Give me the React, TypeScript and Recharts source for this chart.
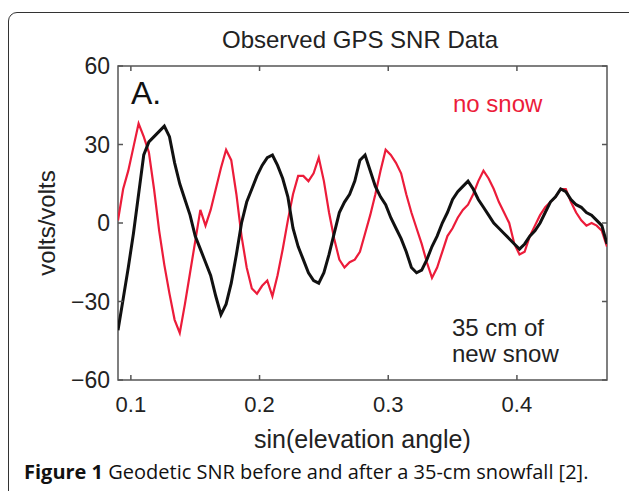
import { LineChart, Line, XAxis, YAxis, ReferenceArea } from "recharts";

// sin(elevation angle) sample positions
const xValues = [
  0.09, 0.094, 0.098, 0.102, 0.106, 0.11, 0.114, 0.118, 0.122, 0.126,
  0.13, 0.134, 0.138, 0.142, 0.146, 0.15, 0.154, 0.158, 0.162, 0.166,
  0.17, 0.174, 0.178, 0.182, 0.186, 0.19, 0.194, 0.198, 0.202, 0.206,
  0.21, 0.214, 0.218, 0.222, 0.226, 0.23, 0.234, 0.238, 0.242, 0.246,
  0.25, 0.254, 0.258, 0.262, 0.266, 0.27, 0.274, 0.278, 0.282, 0.286,
  0.29, 0.294, 0.298, 0.302, 0.306, 0.31, 0.314, 0.318, 0.322, 0.326,
  0.33, 0.334, 0.338, 0.342, 0.346, 0.35, 0.354, 0.358, 0.362, 0.366,
  0.37, 0.374, 0.378, 0.382, 0.386, 0.39, 0.394, 0.398, 0.402, 0.406,
  0.41, 0.414, 0.418, 0.422, 0.426, 0.43, 0.434, 0.438, 0.442, 0.446,
  0.45, 0.454, 0.458, 0.462, 0.466, 0.47,
];

// no snow (red)
const noSnow = [
  1, 13, 20, 29, 38, 33, 27, 13, -3, -16,
  -27, -37, -42, -31, -19, -7, 5, -1, 5, 13,
  21, 28, 24, 11, -5, -17, -25, -27, -24, -22,
  -28, -20, -10, 1, 11, 18, 18, 16, 19, 25,
  16, 4, -6, -14, -17, -15, -14, -11, -4, 3,
  11, 20, 28, 26, 23, 19, 11, 4, -2, -8,
  -15, -21, -17, -11, -5, -2, 2, 5, 7, 11,
  16, 20, 17, 13, 8, 4, 0, -8, -12, -11,
  -5, -1, 3, 6, 8, 10, 13, 13, 8, 4,
  1, -1, 0, -1, -3, -9,
];

// 35 cm of new snow (black)
const newSnow = [
  -41, -29, -17, -4, 11, 26, 31, 33, 35, 37,
  33, 23, 15, 9, 3, -5, -10, -15, -20, -28,
  -35, -31, -23, -12, 0, 8, 13, 18, 22, 25,
  26, 22, 17, 10, -2, -9, -14, -19, -22, -23,
  -19, -12, -4, 4, 8, 11, 16, 24, 26, 20,
  14, 10, 7, 2, -2, -6, -11, -17, -19, -18,
  -14, -9, -5, 0, 4, 9, 12, 14, 16, 13,
  9, 6, 3, 0, -2, -4, -6, -8, -10, -8,
  -5, -3, 0, 4, 8, 10, 13, 12, 9, 7,
  6, 4, 3, 1, -1, -8,
];

const xTicks = [0.1, 0.2, 0.3, 0.4];
const yTicks = [-60, -30, 0, 30, 60];

const redData = xValues.map((x, i) => ({ x, v: noSnow[i] }));
const blackData = xValues.map((x, i) => ({ x, v: newSnow[i] }));

const TOP = 66;
const BOTTOM = 380;
const LEFT = 118;
const RIGHT = 607;
const FRAME = "#555";
const RED = "#ec1c3a";
const FONT = "'Liberation Sans', Arial, Helvetica, sans-serif";

const XTick = (props: any) => {
  const { x, payload } = props;
  return (
    <g>
      <line x1={x} x2={x} y1={BOTTOM} y2={BOTTOM - 5} stroke={FRAME} strokeWidth={1.5} />
      <line x1={x} x2={x} y1={TOP} y2={TOP + 5} stroke={FRAME} strokeWidth={1.5} />
      <text x={x} y={412} textAnchor="middle" fontSize={22} fill="#222" fontFamily={FONT}>
        {payload.value.toFixed(1)}
      </text>
    </g>
  );
};

const YTick = (props: any) => {
  const { y, payload } = props;
  const label = payload.value < 0 ? `\u2212${Math.abs(payload.value)}` : `${payload.value}`;
  return (
    <g>
      <line x1={LEFT} x2={LEFT + 5} y1={y} y2={y} stroke={FRAME} strokeWidth={1.5} />
      <line x1={RIGHT} x2={RIGHT - 5} y1={y} y2={y} stroke={FRAME} strokeWidth={1.5} />
      <text x={110} y={y + 8} textAnchor="end" fontSize={23} fill="#222" fontFamily={FONT}>
        {label}
      </text>
    </g>
  );
};

const abs = (left: number, top: number, extra: any = {}) => ({
  position: "absolute" as const,
  left,
  top,
  whiteSpace: "nowrap" as const,
  fontFamily: FONT,
  color: "#222",
  lineHeight: 1,
  ...extra,
});

export default function App() {
  return (
    <div style={{ position: "absolute", left: 0, top: 0, width: 629, height: 491, overflow: "hidden", background: "#fff" }}>
      {/* outer rounded frame, cut off at right and bottom */}
      <div
        style={{
          position: "absolute",
          left: 8,
          top: 12,
          width: 630,
          height: 500,
          border: "1.5px solid #333",
          borderRadius: 9,
        }}
      />
      <div style={{ position: "absolute", left: 0, top: 0 }}>
        <LineChart
          width={629}
          height={491}
          margin={{ top: TOP, right: 629 - RIGHT, bottom: 81, left: LEFT - 60 }}
        >
          <XAxis
            dataKey="x"
            type="number"
            domain={[0.09, 0.47]}
            ticks={xTicks}
            axisLine={false}
            tickLine={false}
            tick={<XTick />}
            height={30}
            allowDataOverflow
          />
          <YAxis
            type="number"
            domain={[-60, 60]}
            ticks={yTicks}
            axisLine={false}
            tickLine={false}
            tick={<YTick />}
            width={60}
            allowDataOverflow
          />
          <Line
            data={redData}
            dataKey="v"
            stroke={RED}
            strokeWidth={2.2}
            dot={false}
            isAnimationActive={false}
          />
          <Line
            data={blackData}
            dataKey="v"
            stroke="#111"
            strokeWidth={3}
            dot={false}
            isAnimationActive={false}
          />
          <ReferenceArea
            x1={0.09}
            x2={0.47}
            y1={-60}
            y2={60}
            fill="none"
            stroke={FRAME}
            strokeWidth={1.5}
            fillOpacity={0}
          />
        </LineChart>
      </div>
      <div style={abs(222, 28, { fontSize: 24 })}>Observed GPS SNR Data</div>
      <div style={abs(131, 77, { fontSize: 32, color: "#111" })}>A.</div>
      <div style={abs(453, 92, { fontSize: 24, color: RED })}>no snow</div>
      <div style={abs(452, 315, { fontSize: 24, lineHeight: "26px" })}>
        35 cm of
        <br />
        new snow
      </div>
      <div style={abs(254, 427, { fontSize: 25 })}>sin(elevation angle)</div>
      <div
        style={abs(-8, 211, {
          fontSize: 24,
          transform: "rotate(-90deg)",
          width: 110,
          textAlign: "center",
        })}
      >
        volts/volts
      </div>
      <div style={abs(24, 462, { fontSize: 20, fontFamily: "'Open Sans', sans-serif", color: "#111" })}>
        <b>Figure 1</b> Geodetic SNR before and after a 35-cm snowfall [2].
      </div>
    </div>
  );
}
